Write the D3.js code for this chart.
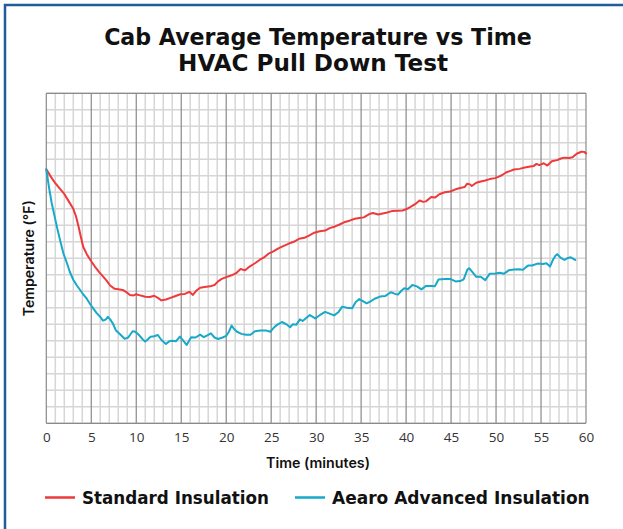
<!DOCTYPE html>
<html><head><meta charset="utf-8">
<script src="https://cdn.jsdelivr.net/npm/d3@7"></script>
<style>html,body{margin:0;padding:0;background:#fff;}svg{display:block;}</style>
</head><body>
<svg id="chart" width="623" height="529"></svg>
<script>
const titleLines = ["Cab Average Temperature vs Time", "HVAC Pull Down Test"];
const xLabel = "Time (minutes)";
const yLabel = "Temperature (°F)";
const seriesNames = ["Standard Insulation", "Aearo Advanced Insulation"];
const xTicks = [0, 5, 10, 15, 20, 25, 30, 35, 40, 45, 50, 55, 60];

const standardTime = [0,0.5,1,1.5,2,2.5,3,3.3,3.6,3.8,4.1,4.5,4.9,5.4,5.9,6.3,6.7,7.1,7.6,8,8.5,8.9,9.3,9.7,10,10.5,11,11.5,12,12.4,12.8,13.3,13.8,14.3,14.9,15.4,15.9,16.3,16.7,17.1,17.6,18.2,18.7,19.1,19.5,20,20.6,21.1,21.6,22.1,22.6,23.2,23.7,24.2,24.7,25.2,25.8,26.4,26.9,27.5,28.1,28.7,29.2,29.8,30.4,31,31.5,32.1,32.6,33.1,33.7,34.3,34.8,35.3,35.9,36.3,36.9,37.4,37.9,38.4,39,39.6,40,40.5,41,41.5,41.9,42.2,42.8,43.2,43.7,44.3,44.9,45.5,46,46.5,46.8,47.1,47.3,47.8,48.3,48.8,49.3,49.9,50.3,50.7,51.1,51.6,52,52.6,53.2,53.8,54.2,54.5,54.8,55.3,55.7,56.2,56.8,57.2,57.6,58.1,58.5,59,59.5,59.8,60];
const standardTemp = [15.39,14.95,14.55,14.22,13.9,13.45,13.0,12.55,11.9,11.4,10.7,10.25,9.9,9.5,9.15,8.9,8.65,8.35,8.15,8.12,8.08,7.95,7.78,7.75,7.82,7.74,7.67,7.65,7.73,7.6,7.45,7.5,7.6,7.7,7.82,7.84,7.97,7.78,8.05,8.22,8.26,8.3,8.38,8.6,8.75,8.86,8.97,9.1,9.35,9.27,9.5,9.7,9.9,10.05,10.28,10.4,10.6,10.75,10.88,11.0,11.18,11.24,11.38,11.55,11.64,11.68,11.83,11.93,12.05,12.18,12.28,12.4,12.44,12.48,12.68,12.75,12.65,12.72,12.78,12.86,12.88,12.9,12.97,13.12,13.28,13.5,13.42,13.45,13.72,13.68,13.88,14.0,14.05,14.18,14.26,14.32,14.52,14.48,14.38,14.58,14.65,14.72,14.8,14.86,14.95,15.05,15.2,15.3,15.38,15.42,15.5,15.56,15.6,15.72,15.65,15.76,15.62,15.88,15.95,16.05,16.1,16.08,16.12,16.35,16.46,16.45,16.36];

const aearoTime = [0,0.3,0.6,0.9,1.2,1.6,1.9,2.3,2.6,3,3.4,3.8,4.1,4.5,4.9,5.3,5.6,6,6.3,6.6,6.85,7.1,7.4,7.75,8.2,8.7,9.1,9.6,9.9,10.3,10.7,11,11.3,11.6,12,12.4,12.8,13.3,13.7,14,14.4,14.85,15.2,15.6,16.1,16.6,17.1,17.5,17.9,18.3,18.7,19.1,19.6,20,20.3,20.6,20.9,21.2,21.7,22.2,22.7,23.2,23.8,24.4,24.9,25.3,25.7,26.2,26.7,27.1,27.4,27.8,28.2,28.5,28.9,29.3,29.9,30.4,31,31.5,32,32.5,32.9,33.4,34,34.4,34.8,35.2,35.6,36,36.5,37.1,37.7,38.3,38.7,39.1,39.5,39.8,40.2,40.7,41.2,41.7,42.2,42.8,43.2,43.6,44.3,44.9,45.5,46,46.4,46.8,47,47.4,47.8,48.3,48.8,49.3,49.9,50.4,50.9,51.4,52,52.5,53,53.3,53.6,54,54.6,55.2,55.6,56,56.3,56.6,56.8,57.2,57.6,58,58.3,58.8];
const aearoTemp = [15.39,14.3,13.35,12.6,11.85,10.95,10.3,9.7,9.2,8.7,8.35,8.05,7.82,7.55,7.2,6.9,6.68,6.45,6.22,6.28,6.45,6.3,6.05,5.62,5.4,5.12,5.2,5.58,5.55,5.35,5.1,4.95,5.1,5.25,5.28,5.35,5.05,4.81,4.98,5.0,4.97,5.25,5.02,4.75,5.22,5.2,5.37,5.22,5.33,5.45,5.2,5.11,5.2,5.3,5.55,5.92,5.7,5.55,5.42,5.37,5.37,5.58,5.62,5.63,5.55,5.8,5.98,6.14,6.0,5.82,6.0,5.98,6.3,6.2,6.38,6.56,6.36,6.55,6.75,6.65,6.54,6.75,7.07,7.0,6.97,7.35,7.53,7.4,7.27,7.38,7.55,7.68,7.72,7.94,7.86,7.8,8.05,8.18,8.12,8.38,8.3,8.12,8.32,8.32,8.3,8.72,8.74,8.75,8.6,8.62,8.72,9.3,9.4,9.15,8.88,8.88,8.68,9.07,9.08,9.12,9.07,9.27,9.32,9.33,9.3,9.45,9.57,9.56,9.68,9.66,9.7,9.5,9.88,10.15,10.25,10.02,9.9,10.02,10.06,9.9];

const colors = ["#f0393a", "#16a9c8"];

const svg = d3.select("#chart");
const plot = {left: 46.3, right: 586, top: 93.3, bottom: 423.3};

// scale a text's font size so that it spans the given width
function fitSize(sel, target) {
  const w = sel.node().getComputedTextLength();
  const fs = parseFloat(sel.attr("font-size"));
  sel.attr("font-size", (fs * target / w).toFixed(2));
  return sel;
}

// outer frame
svg.append("rect").attr("x", 5).attr("y", 5).attr("width", 700).attr("height", 700)
  .attr("fill", "none").attr("stroke", "#1d5d9c").attr("stroke-width", 2.5);

const x = d3.scaleLinear().domain([0, 60]).range([plot.left, plot.right]);
const y = d3.scaleLinear().domain([0, 20]).range([plot.bottom, plot.top]);

// title
const title = svg.append("g").attr("font-family", "'DejaVu Sans', sans-serif")
  .attr("font-weight", 700).attr("fill", "#111").attr("text-anchor", "middle");
fitSize(title.append("text").attr("x", 318).attr("y", 45).attr("font-size", 22).text(titleLines[0]), 428);
fitSize(title.append("text").attr("x", 313).attr("y", 71).attr("font-size", 22).text(titleLines[1]), 270);

// grid
const grid = svg.append("g");
grid.selectAll("line.hy").data(d3.range(0, 21)).join("line")
  .attr("x1", plot.left).attr("x2", plot.right)
  .attr("y1", d => y(d)).attr("y2", d => y(d))
  .attr("stroke", "#d6d6d6").attr("stroke-width", 1.5);
grid.selectAll("line.vx").data(d3.range(0, 61).filter(d => d % 5 !== 0)).join("line")
  .attr("y1", plot.top).attr("y2", plot.bottom)
  .attr("x1", d => x(d)).attr("x2", d => x(d))
  .attr("stroke", "#d6d6d6").attr("stroke-width", 1.5);
svg.append("g").selectAll("line").data(xTicks).join("line")
  .attr("y1", plot.top).attr("y2", plot.bottom)
  .attr("x1", d => x(d)).attr("x2", d => x(d))
  .attr("stroke", "#8a8a8a").attr("stroke-width", 1.2);
svg.append("line").attr("x1", plot.left).attr("x2", plot.right).attr("y1", plot.top).attr("y2", plot.top)
  .attr("stroke", "#8a8a8a").attr("stroke-width", 1.2);
svg.append("line").attr("x1", plot.left).attr("x2", plot.right).attr("y1", plot.bottom).attr("y2", plot.bottom)
  .attr("stroke", "#8a8a8a").attr("stroke-width", 1.2);

// x axis
const xAxis = svg.append("g").attr("transform", `translate(0,${plot.bottom})`)
  .call(d3.axisBottom(x).tickValues(xTicks).tickSize(0).tickPadding(9).tickFormat(d3.format("d")));
xAxis.select(".domain").remove();
xAxis.selectAll("text").attr("font-family", "'Open Sans', sans-serif").attr("font-size", 13.5).attr("fill", "#333");

const xl = svg.append("text").attr("x", 318).attr("y", 468).attr("text-anchor", "middle")
  .attr("font-family", "Inter, sans-serif").attr("font-weight", 600).attr("font-size", 13).attr("fill", "#111")
  .text(xLabel);
fitSize(xl, 104);
const yl = svg.append("text").attr("transform", `translate(34,${(plot.top + plot.bottom) / 2}) rotate(-90)`)
  .attr("text-anchor", "middle")
  .attr("font-family", "Inter, sans-serif").attr("font-weight", 600).attr("font-size", 13).attr("fill", "#111")
  .text(yLabel);
fitSize(yl, 116);

// lines
const line = d3.line().x(d => x(d[0])).y(d => y(d[1])).curve(d3.curveLinear);
const series = [
  d3.zip(standardTime, standardTemp),
  d3.zip(aearoTime, aearoTemp)
];
svg.append("g").selectAll("path").data(series).join("path")
  .attr("d", line).attr("fill", "none")
  .attr("stroke", (d, i) => colors[i]).attr("stroke-width", 2)
  .attr("stroke-linejoin", "round").attr("stroke-linecap", "round");

// legend
const legendItems = [{lx: 45, tx: 82, w: 187}, {lx: 295, tx: 332, w: 258}];
const lg = svg.append("g");
seriesNames.forEach((name, i) => {
  lg.append("line").attr("x1", legendItems[i].lx).attr("x2", legendItems[i].lx + 30)
    .attr("y1", 497.5).attr("y2", 497.5).attr("stroke", colors[i]).attr("stroke-width", 2.5);
  const t = lg.append("text").attr("x", legendItems[i].tx).attr("y", 504)
    .attr("font-family", "'DejaVu Sans', sans-serif").attr("font-weight", 700).attr("font-size", 17).attr("fill", "#111")
    .text(name);
  fitSize(t, legendItems[i].w);
});
</script>
</body></html>
